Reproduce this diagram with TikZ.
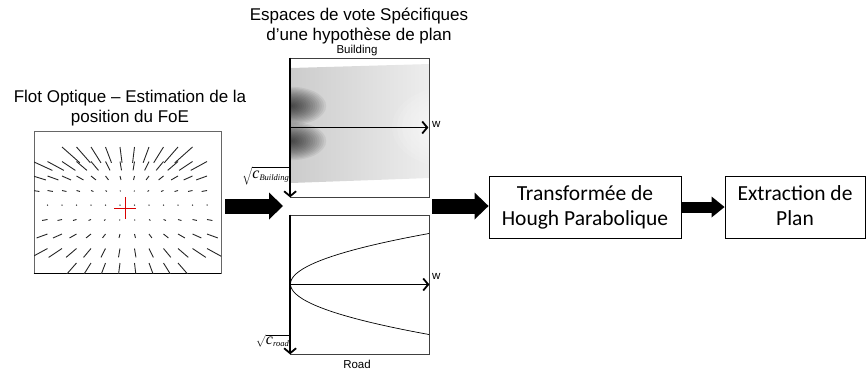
\documentclass[tikz,border=0pt]{standalone}
\usepackage{fontspec}
\setmainfont{Liberation Sans}
\newfontfamily\calib{Carlito}
\newfontfamily\timesf{Liberation Serif}
\usetikzlibrary{arrows.meta}
\newcommand{\bigc}{\mbox{\timesf\itshape\fontsize{16}{18}\selectfont c}}
\newcommand{\subtxt}[1]{\mbox{\timesf\itshape\fontsize{8.5}{10}\selectfont #1}}
\begin{document}
\begin{tikzpicture}[x=1pt,y=-1pt,
  fbox/.style={draw=black!75, line width=0.8pt, inner sep=0pt},
  procbox/.style={draw=black, line width=0.9pt, font=\calib\fontsize{21.5}{25}\selectfont, align=center, inner sep=0pt},
  bigarrow/.style={line width=15pt, -{Triangle[width=27pt,length=14pt,line width=0pt]}},
  smallarrow/.style={line width=11pt, -{Triangle[width=21pt,length=13pt,line width=0pt]}},
  axisline/.style={line width=1.8pt, -{Straight Barb[length=5pt,width=12pt]}},
  ttl/.style={font=\fontsize{17}{20}\selectfont, align=center, inner sep=0pt},
  lbl/.style={font=\fontsize{11.5}{13}\selectfont, inner sep=0pt},
  flowline/.style={line width=0.9pt, black!85},
]
\path[use as bounding box] (0,0) rectangle (866,372);

% ---------- optical flow panel ----------
\node[ttl] (tflow) at (130,108.6) {Flot Optique – Estimation de la\\position du FoE};
\node[draw=black!60, line width=0.8pt, minimum width=187pt, minimum height=142pt, inner sep=0pt] (flow) at (127.5,202) {};
\draw[line width=1.2pt] (flow.south west) -- (flow.south east);
\begin{scope}
\clip (34,131) rectangle (221,273);
\foreach \i in {0,...,12}{
 \foreach \j in {-4,...,4}{
  \pgfmathsetmacro{\px}{33+14.5*\i}
  \pgfmathsetmacro{\py}{205+14.5*\j}
  \pgfmathsetmacro{\ddx}{0.0047*(\px-127.5)*(\py-205)}
  \pgfmathsetmacro{\ddy}{0.0047*(\py-205)*(\py-205)}
  \pgfmathtruncatemacro{\keep}{((\j==-4)&&((\i<2)||(\i>11)))||((\j==4)&&((\i<3)||(\i>10))) ? 0 : 1}
  \ifnum\keep=1
    \ifnum\j=0
      \fill[black!80] (\px,\py) circle (0.75pt);
    \else
      \draw[flowline] (\px,\py) -- ++(\ddx,\ddy);
    \fi
  \fi
 }
}
\end{scope}
\coordinate (foe) at (125,208);
\draw[red!85!black, line width=0.9pt] ([xshift=-11pt]foe) -- ([xshift=11pt]foe);
\draw[red!85!black, line width=0.9pt] ([yshift=11pt]foe) -- ([yshift=-11pt]foe);

% ---------- voting spaces ----------
\node[ttl] (tvote) at (359,25.6) {Espaces de vote Spécifiques\\d’une hypothèse de plan};
\node[lbl] (lbld) at (357,50.2) {Building};
\node[lbl] (lroad) at (357,364) {Road};

\begin{scope}
\clip (291,58.5) rectangle (429.5,196.5);
\shade[left color=black!20, right color=black!7] (291,68) -- (430,64) -- (430,178) -- (291,183) -- cycle;
\foreach \r in {1,...,12} \fill[white, opacity=0.1] (452,127) ellipse ({5pt*\r} and {3.4pt*\r});
\foreach \r in {1,...,16} \fill[black, opacity=0.06] (291,106) ellipse ({2.2pt*\r} and {1.2pt*\r});
\foreach \r in {1,...,16} \fill[black, opacity=0.06] (291,141) ellipse ({2.2pt*\r} and {1.2pt*\r});
\end{scope}
\node[fbox, minimum width=139pt, minimum height=139pt] (bld) at (360,127.5) {};
\node[fbox, minimum width=139pt, minimum height=139pt] (road) at (360,284.5) {};

\begin{scope}
\clip (291,215) rectangle (429.5,354);
\draw[line width=0.7pt] plot[domain=-50.5:50.5, samples=80, smooth] ({290.5+138.5*(\x/50.5)*(\x/50.5)}, {284+\x});
\end{scope}

\draw[axisline] (bld.north west) -- (bld.south west);
\draw[axisline] (bld.west) -- ([xshift=-1.5pt]bld.east);
\draw[axisline] (road.north west) -- (road.south west);
\draw[axisline] (road.west) -- ([xshift=-0.5pt]road.east);

\node[lbl, anchor=west] (wb) at (432,124.5) {w};
\node[lbl, anchor=west] (wr) at (432,276) {w};
\node[anchor=east, inner sep=0pt] (sqb) at (289.5,176) {$\sqrt{\bigc_{\subtxt{Building}}}$};
\node[anchor=east, inner sep=0pt] (sqr) at (289.5,341) {$\sqrt{\bigc_{\subtxt{road}}}$};

% ---------- processing boxes ----------
\node[procbox, minimum width=192pt, minimum height=62pt] (hough) at (585,207) {Transformée de\\Hough Parabolique};
\node[procbox, minimum width=140pt, minimum height=62pt] (extr) at (795,207) {Extraction de\\Plan\vphantom{g}};

% ---------- big arrows ----------
\coordinate (vin) at (283,206);
\coordinate (vout) at (432,206);
\draw[bigarrow] ([xshift=4pt]flow.east |- vin) -- (vin);
\draw[bigarrow] (vout) -- (hough.west |- vout);
\draw[smallarrow] (hough.east) -- (extr.west);
\end{tikzpicture}
\end{document}
